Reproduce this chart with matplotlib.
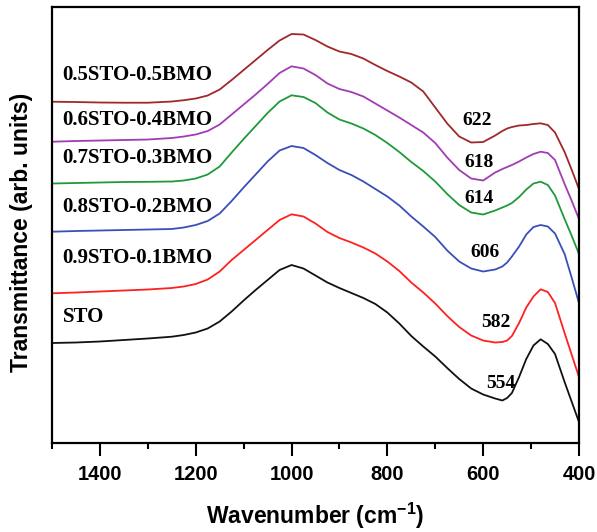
import matplotlib
matplotlib.use("Agg")
import matplotlib.pyplot as plt
from matplotlib.ticker import MultipleLocator

# wavenumber grid (cm-1) shared by all spectra
wavenumber = [1500, 1450, 1400, 1350, 1300, 1250, 1225, 1200, 1175, 1150, 1125,
              1100, 1075, 1050, 1025, 1000, 975, 950, 925, 900, 875,
              850, 825, 800, 775, 750, 725, 700, 675, 650, 625,
              600, 575, 560, 550, 540, 525, 510, 495, 480, 465,
              450, 430, 415, 400]

# transmittance, stacked with offsets (arb. units)
sto = [1.000, 1.005, 1.015, 1.030, 1.045, 1.063, 1.080, 1.105, 1.145, 1.215, 1.315,
       1.425, 1.530, 1.630, 1.730, 1.780, 1.745, 1.675, 1.605, 1.550, 1.500,
       1.450, 1.390, 1.305, 1.195, 1.070, 0.965, 0.865, 0.750, 0.640, 0.545,
       0.485, 0.445, 0.425, 0.450, 0.500, 0.660, 0.840, 0.975, 1.037, 0.990,
       0.890, 0.610, 0.410, 0.210]
bmo01 = [1.497, 1.505, 1.515, 1.525, 1.535, 1.550, 1.565, 1.590, 1.635, 1.715, 1.830,
         1.930, 2.030, 2.130, 2.230, 2.287, 2.265, 2.195, 2.110, 2.050, 2.005,
         1.955, 1.895, 1.815, 1.720, 1.605, 1.505, 1.395, 1.270, 1.160, 1.075,
         1.025, 1.005, 1.010, 1.025, 1.070, 1.200, 1.355, 1.465, 1.537, 1.510,
         1.400, 1.100, 0.880, 0.660]
bmo02 = [2.113, 2.120, 2.125, 2.130, 2.135, 2.140, 2.155, 2.180, 2.220, 2.295, 2.420,
         2.555, 2.685, 2.815, 2.925, 2.970, 2.950, 2.880, 2.800, 2.730, 2.680,
         2.615, 2.540, 2.465, 2.375, 2.265, 2.165, 2.060, 1.925, 1.815, 1.745,
         1.715, 1.735, 1.765, 1.805, 1.865, 1.965, 2.085, 2.160, 2.180, 2.165,
         2.095, 1.890, 1.650, 1.400]
bmo03 = [2.595, 2.600, 2.605, 2.610, 2.612, 2.615, 2.625, 2.645, 2.685, 2.765, 2.905,
         3.040, 3.170, 3.300, 3.415, 3.477, 3.460, 3.400, 3.305, 3.235, 3.195,
         3.145, 3.080, 3.000, 2.910, 2.810, 2.720, 2.615, 2.490, 2.380, 2.305,
         2.285, 2.325, 2.355, 2.375, 2.400, 2.460, 2.535, 2.595, 2.613, 2.580,
         2.475, 2.240, 2.070, 1.890]
bmo04 = [3.013, 3.020, 3.025, 3.030, 3.035, 3.050, 3.065, 3.085, 3.120, 3.185, 3.285,
         3.385, 3.485, 3.590, 3.700, 3.767, 3.745, 3.680, 3.595, 3.540, 3.510,
         3.465, 3.395, 3.325, 3.255, 3.180, 3.105, 3.000, 2.855, 2.730, 2.645,
         2.625, 2.705, 2.740, 2.760, 2.780, 2.815, 2.855, 2.890, 2.913, 2.900,
         2.830, 2.590, 2.420, 2.240]
bmo05 = [3.413, 3.410, 3.405, 3.403, 3.403, 3.415, 3.428, 3.445, 3.475, 3.535, 3.630,
         3.730, 3.830, 3.930, 4.025, 4.090, 4.085, 4.030, 3.965, 3.915, 3.890,
         3.845, 3.780, 3.720, 3.665, 3.605, 3.515, 3.355, 3.195, 3.065, 3.005,
         3.010, 3.075, 3.120, 3.145, 3.160, 3.175, 3.180, 3.190, 3.197, 3.180,
         3.105, 2.910, 2.730, 2.540]

names = ["STO", "0.9STO-0.1BMO", "0.8STO-0.2BMO", "0.7STO-0.3BMO",
         "0.6STO-0.4BMO", "0.5STO-0.5BMO"]
spectra = [sto, bmo01, bmo02, bmo03, bmo04, bmo05]
colors = ["#111111", "#ff2020", "#3a4fb8", "#1f9a3a", "#a03cb4", "#a0282a"]

# label positions (baseline, data units)
name_y = [1.213, 1.80, 2.31, 2.80, 3.18, 3.63]
bands = ["554", "582", "606", "614", "618", "622"]
band_x = [562.8, 573.2, 596.8, 608.7, 608.7, 613.5]
band_y = [0.547, 1.163, 1.863, 2.397, 2.763, 3.18]

sans = ["Liberation Sans", "Arial", "DejaVu Sans"]
serif = ["Liberation Serif", "Times New Roman", "DejaVu Serif"]

fig = plt.figure(figsize=(5.97, 5.32), dpi=100)
ax = fig.add_axes([0.0871, 0.1673, 0.8827, 0.8195])

for y, c in zip(spectra, colors):
    ax.plot(wavenumber, y, color=c, lw=1.3, solid_joinstyle="round")

for n, y in zip(names, name_y):
    ax.text(1477.7, y, n, family=serif, fontweight="bold", fontsize=15,
            ha="left", va="baseline")
for b, x, y in zip(bands, band_x, band_y):
    ax.text(x, y, b, family=serif, fontweight="bold", fontsize=14,
            ha="center", va="baseline")

ax.set_xlim(1500, 400)
ax.set_ylim(0, 4.36)
ax.xaxis.set_major_locator(MultipleLocator(200))
ax.xaxis.set_minor_locator(MultipleLocator(100))
ax.set_yticks([])
ax.tick_params(axis="x", which="major", direction="out", length=9, width=1.5,
               pad=7)
ax.tick_params(axis="x", which="minor", direction="out", length=4.5, width=1.5)
for lbl in ax.get_xticklabels():
    lbl.set_family(sans)
    lbl.set_fontweight("bold")
    lbl.set_fontsize(14.5)
for s in ax.spines.values():
    s.set_linewidth(1.6)

ax.set_xlabel("Wavenumber (cm$\\mathregular{^{-1}}$)", family=sans,
              fontweight="bold", fontsize=16.5, labelpad=12)
ax.set_ylabel("Transmittance (arb. units)", family=sans, fontweight="bold",
              fontsize=16.5)
ax.yaxis.set_label_coords(-0.036, 0.482)

fig.savefig("out.png", dpi=100)
